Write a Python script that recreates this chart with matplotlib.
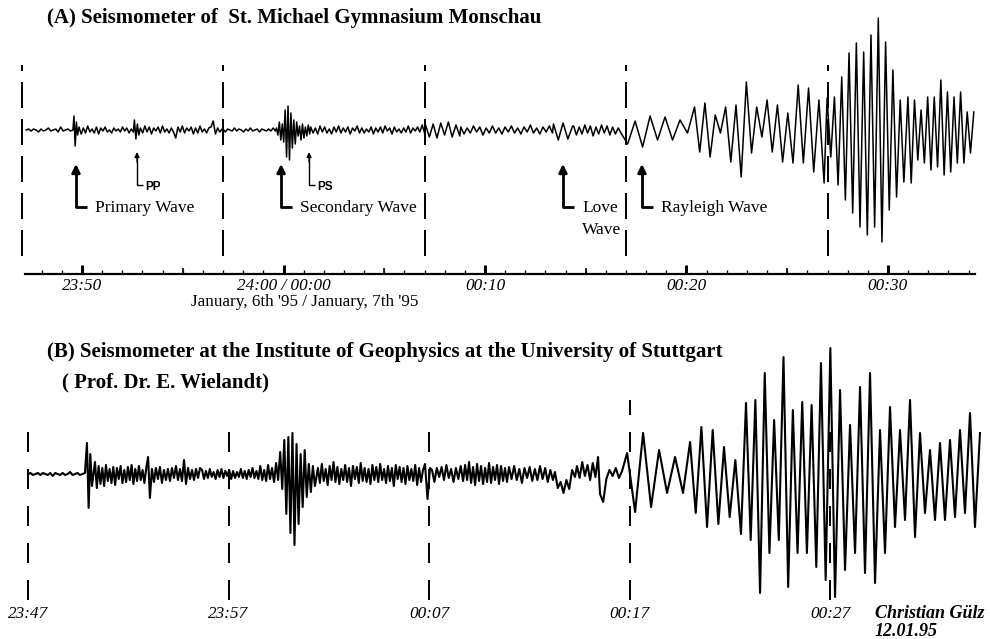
import numpy as np
import matplotlib
matplotlib.use("Agg")
import matplotlib.pyplot as plt
from matplotlib.ticker import MultipleLocator

plt.rcParams['font.family'] = ['Liberation Serif', 'DejaVu Serif']
plt.rcParams['lines.scale_dashes'] = False

# ---------------------------------------------------------------------------
# Trace A - St. Michael Gymnasium Monschau
# time in minutes relative to midnight (Jan 6/7 1995), amplitude in trace units
# each block: (start minute, end minute) and the successive extremes in it
# ---------------------------------------------------------------------------
a_pre_span = (-12.77, -10.45)
a_pre = [0, 1, -1, 1, 0, -2, 1, -1, 0, 2, -1, 0, 1, -2, 3, -1, 0, 1, -1, 0]
a_p_span = (-10.40, -10.22)
a_p = [14, -16, 8, -5]
a_p_coda_span = (-10.15, -7.45)
a_p_coda = [3, -4, 2, -3, 4, -2, 1, -3, 3, -4, 2, -1, 3, -2, 0, -3, 2, -1, 1, -2,
            3, -1, 2, -3, 1, -2]
a_pp_span = (-7.40, -7.18)
a_pp = [10, -9, 6, -5]
a_pp_coda_span = (-7.10, -3.05)
a_pp_coda = [2, -3, 4, -2, 3, -4, 2, -1, 3, -3, 4, -2, 1, -3, 2, -2, -8, 3, -2, 4,
             -3, 2, -1, 3, -4, 2, -3, 4, -2, 1, -3, 2, 3, 9, -4, 2, -2, 1]
a_quiet_span = (-3.00, -0.40)
a_quiet = [1, -2, 1, 0, -1, 2, -1, 1, 0, -2, 1, -1, 2, -1, 0, 1, -2, 1, 0, -1,
           1, -1, 2, -1]
a_s_span = (-0.35, 1.30)
a_s = [2, -5, 8, -10, 6, -12, 20, -27, 24, -30, 17, -18, 10, -14, 8, -6, 4, -10,
       6, -8, 3, -6, 5, -4]
a_mid_span = (1.35, 7.00)
a_mid = [3, -3, 2, -4, 4, -2, 3, -3, 1, -4, 3, -2, 4, -3, 2, -2, 3, -4, 2, -1,
         4, -3, 2, -3, 1, -2, 3, -4, 2, -2, 3, -3, 4, -1, 2, -4, 3, -2, 1, -3,
         2, -2, 4, -3, 2, -1, 3, -2, 5, -3]
a_love1_span = (7.05, 8.75)
a_love1 = [5, -7, 6, -8, 7, -5, 8, -7, 5, -6]
a_love2_span = (8.80, 13.35)
a_love2 = [3, -4, 2, -3, 4, -2, 3, -5, 2, -3, 4, -3, 2, -4, 3, -2, 4, -3, 2, -4,
           3, -2, 5, -3, 2, -4, 3, -2, 4, -3]
a_love3_span = (13.40, 14.35)
a_love3 = [6, -10, 7, -9, 4]
a_love4_span = (14.40, 16.75)
a_love4 = [4, -5, 3, -4, 5, -3, 4, -6, 3, -4, 5, -3, 4, -5, 3, -4, 2, -3]
a_ray1_span = (17.08, 20.05)
a_ray1 = [-14, 9, -17, 14, -10, 13, -10, 10, -3]
a_ray2_span = (20.40, 26.83)
a_ray2 = [23, -22, 27, -27, 15, -3, 23, -32, 25, -47, 48, -23, 23, -7, 30, -22,
          25, -32, 17, -33, 45, -33, 42, -42, 30, -53]
a_ray3_span = (26.98, 30.79)
a_ray3 = [32, -27, 33, -55, 53, -70, 77, -83, 87, -97, 78, -105, 95, -97, 112,
          -112, 88, -80, 60, -67, 30, -52]
a_ray4_span = (30.99, 34.26)
a_ray4 = [33, -53, 30, -30, 20, -33, 33, -40, 33, -37, 50, -45, 38, -42, 33, -33,
          38, -33, 18, -23, 18]

# ---------------------------------------------------------------------------
# Trace B - Institute of Geophysics, University of Stuttgart
# ---------------------------------------------------------------------------
b_pre_span = (-13.00, -10.16)
b_pre = [0, 1, -1, 0, 1, -1, 1, 0, -1, 1, -2, 1, 0, -1, 1, -1, 0, 2, -1, 0,
         1, -1, 0, 1]
b_p_span = (-10.06, -9.81)
b_p = [31, -34, 20, -12]
b_p_coda_span = (-9.66, -6.92)
b_p_coda = [12, -14, 8, -10, 6, -12, 9, -7, 5, -9, 7, -11, 6, -5, 8, -9, 4, -8,
            7, -6, 9, -10, 5, -7, 8, -6, 4, -9, 6, 17, -24]
b_pp_span = (-6.82, -4.42)
b_pp = [5, -8, 6, -5, 7, -9, 4, -6, 5, -7, 6, -4, 8, -6, 5, -7, 14, -10, 6, -5,
        4, -6, 5, -4, 6]
b_quiet_span = (-4.32, -0.93)
b_quiet = [4, -5, 3, -4, 5, -3, 2, -5, 4, -3, 5, -4, 3, -2, 4, -5, 3, -4, 2, -3,
           5, -4, 3, -5, 4, -3, 6, -4, 3, -5, 8, -6, 4, -7, 9, -5]
b_s_span = (-0.83, 1.31)
b_s = [6, -8, 11, -6, 22, -15, 34, -40, 37, -59, 41, -71, 30, -50, 20, -33, 24,
       -23, 10, -18, 8, -12]
b_mid_span = (1.46, 6.70)
b_mid = [6, -9, 10, -7, 5, -11, 8, -6, 12, -8, 7, -10, 5, -6, 9, -8, 6, -12, 8,
         -5, 7, -9, 11, -7, 6, -8, 5, -10, 9, -6, 7, -8, 10, -6, 5, -9, 8, -7, 6,
         -12, 9, -5, 7, -8, 6, -10, 8, -6, 5, -7, 9, -11, 6, -8, 4]
b_spike_span = (6.80, 7.05)
b_spike = [10, -25, 6]
b_love1_span = (7.15, 8.70)
b_love1 = [4, -8, 6, -3, 7, -6, 9, -4, 5, -8, 6, -5, 8, -7]
b_love2_span = (8.80, 10.89)
b_love2 = [9, -6, 12, -9, 7, -11, 10, -7, 8, -10, 6, -8, 11, -9, 7, -6, 9, -10,
           8, -7, 6, -8]
b_love3_span = (10.99, 13.18)
b_love3 = [7, -5, 8, -6, 5, -9, 6, -4, 7, -7, 5, -6, 8, -5, 6, -8, 4, -6]
b_love4_span = (13.28, 14.28)
b_love4 = [2, -14, -8, -19, -6, -15, 4, -3]
b_love5_span = (14.38, 15.43)
b_love5 = [8, -4, 12, -2, 9, -6, 11, -3, 17]
b_love6_span = (15.53, 16.63)
b_love6 = [-20, -28, -5, 4, -2, 6, -4, 3]
b_ray1_span = (16.88, 19.67)
b_ray1 = [21, -38, 41, -33, 24, -19, 17, -19]
b_ray2_span = (20.02, 22.56)
b_ray2 = [32, -39, 47, -53, 44, -50, 27, -43, 14, -60]
b_ray3_span = (22.81, 27.25)
b_ray3 = [71, -66, 74, -119, 101, -79, 54, -66, 117, -113, 64, -79, 72, -79, 69,
          -93, 111, -106, 126, -123]
b_ray4_span = (27.50, 34.48)
b_ray4 = [84, -96, 49, -79, 87, -99, 101, -109, 44, -79, 67, -53, 44, -46, 74,
          -63, 41, -39, 24, -46, 31, -46, 34, -43, 44, -39, 61, -53, 41]

# marker times (minutes from midnight) and tick labels
a_tick_minutes = [-10, 0, 10, 20, 30]
a_tick_labels = ['23:50', '24:00 / 00:00', '00:10', '00:20', '00:30']
b_tick_minutes = [-13, -3, 7, 17, 27]
b_tick_labels = ['23:47', '23:57', '00:07', '00:17', '00:27']

# phase picks on trace A: (arrow minute, label, small label?)
a_phases = [(-10.30, 'Primary Wave', False),
            (-7.27, 'PP', True),
            (-0.12, 'Secondary Wave', False),
            (1.27, 'PS', True),
            (13.87, 'Love\nWave', False),
            (17.79, 'Rayleigh Wave', False)]


def assemble(blocks):
    t_parts, v_parts = [], []
    for (t0, t1), vals in blocks:
        t_parts.append(np.linspace(t0, t1, len(vals)))
        v_parts.append(np.asarray(vals, dtype=float))
    return np.concatenate(t_parts), np.concatenate(v_parts)


trace_a = assemble([
    (a_pre_span, a_pre), (a_p_span, a_p), (a_p_coda_span, a_p_coda),
    (a_pp_span, a_pp), (a_pp_coda_span, a_pp_coda), (a_quiet_span, a_quiet),
    (a_s_span, a_s), (a_mid_span, a_mid), (a_love1_span, a_love1),
    (a_love2_span, a_love2), (a_love3_span, a_love3), (a_love4_span, a_love4),
    (a_ray1_span, a_ray1), (a_ray2_span, a_ray2), (a_ray3_span, a_ray3),
    (a_ray4_span, a_ray4)])
trace_b = assemble([
    (b_pre_span, b_pre), (b_p_span, b_p), (b_p_coda_span, b_p_coda),
    (b_pp_span, b_pp), (b_quiet_span, b_quiet), (b_s_span, b_s),
    (b_mid_span, b_mid), (b_spike_span, b_spike), (b_love1_span, b_love1),
    (b_love2_span, b_love2), (b_love3_span, b_love3), (b_love4_span, b_love4),
    (b_love5_span, b_love5), (b_love6_span, b_love6), (b_ray1_span, b_ray1),
    (b_ray2_span, b_ray2), (b_ray3_span, b_ray3), (b_ray4_span, b_ray4)])

W, H = 990, 639
fig = plt.figure(figsize=(W / 100, H / 100), dpi=100)
fig.patch.set_facecolor('white')


def box(x0, y0, x1, y1):
    return [x0 / W, 1 - y1 / H, (x1 - x0) / W, (y1 - y0) / H]


PX = 0.72  # points per pixel at 100 dpi

# ---------------- panel A ----------------
axA = fig.add_axes(box(25, 10, 975, 274))
axA.set_xlim(-12.83, 34.32)
axA.set_ylim(-144, 120)
axA.patch.set_alpha(0)
for side in ('top', 'left', 'right'):
    axA.spines[side].set_visible(False)
axA.spines['bottom'].set_linewidth(2.2 * PX)
axA.set_yticks([])
axA.set_xticks(a_tick_minutes, a_tick_labels)
axA.xaxis.set_minor_locator(MultipleLocator(1))
axA.tick_params(axis='x', which='major', direction='in', length=9 * PX,
                width=3 * PX, pad=4 * PX, labelsize=12.3)
axA.tick_params(axis='x', which='minor', direction='in', length=4 * PX,
                width=1.3 * PX)
for lab in axA.get_xticklabels():
    lab.set_fontstyle('italic')
five_min = [m for m in range(-10, 35, 5) if m not in a_tick_minutes]
axA.vlines(five_min, -144, -144 + 6, color='black', lw=1.6 * PX)

axA.vlines(b_tick_minutes, -126, 65, color='black', lw=2 * PX,
           linestyles=[(0, (26 * PX, 11 * PX))], clip_on=False, zorder=1)
axA.plot(*trace_a, color='black', lw=1.1, solid_joinstyle='round', zorder=3,
         clip_on=False)

for minute, text, small in a_phases:
    if small:
        top, bottom, foot, lw, head = -22, -55, 0.3, 1.4, 7
        axA.text(minute + 0.40, bottom - 2, text, fontsize=8.5, fontweight='bold',
                 family=['Liberation Sans', 'DejaVu Sans'], va='center', ha='left')
    else:
        top, bottom, foot, lw, head = -34, -77, 0.55, 2.8, 12
        lines = text.split('\n')
        axA.text(minute + 0.95, bottom - 1, lines[0], fontsize=12.5,
                 va='center', ha='left')
        if len(lines) > 1:
            axA.text(minute + 0.95, bottom - 23, lines[1], fontsize=12.5,
                     va='center', ha='left')
    axA.plot([minute, minute, minute + foot], [top - 6, bottom, bottom],
             color='black', lw=lw * PX, solid_capstyle='butt', clip_on=False)
    axA.annotate('', xy=(minute, top), xytext=(minute, top - 10),
                 arrowprops=dict(arrowstyle='-|>', color='black', lw=lw * PX,
                                 mutation_scale=head, shrinkA=0, shrinkB=0))

fig.text(47 / W, 1 - 18 / H, '(A) Seismometer of  St. Michael Gymnasium Monschau',
         fontsize=15, fontweight='bold', va='center', ha='left')
fig.text(305 / W, 1 - 302 / H, "January, 6th '95 / January, 7th '95",
         fontsize=12.3, va='center', ha='center')

# ---------------- panel B ----------------
axB = fig.add_axes(box(25, 330, 985, 600))
axB.set_xlim(-13.15, 34.73)
axB.set_ylim(-126, 144)
axB.patch.set_alpha(0)
for side in axB.spines:
    axB.spines[side].set_visible(False)
axB.set_yticks([])
axB.set_xticks(b_tick_minutes, b_tick_labels)
axB.tick_params(axis='x', length=0, pad=6 * PX, labelsize=12.3)
for lab in axB.get_xticklabels():
    lab.set_fontstyle('italic')
b_dash_top = [47, 47, 47, 74, 47]
axB.vlines(b_tick_minutes, -126, b_dash_top, color='black', lw=2 * PX,
           linestyles=[(0, (20 * PX, 17 * PX))], clip_on=False, zorder=1)
axB.plot(*trace_b, color='black', lw=1.5, solid_joinstyle='round', zorder=3,
         clip_on=False)

fig.text(47 / W, 1 - 352 / H,
         '(B) Seismometer at the Institute of Geophysics at the University of Stuttgart',
         fontsize=15, fontweight='bold', va='center', ha='left')
fig.text(62 / W, 1 - 382 / H, '( Prof. Dr. E. Wielandt)',
         fontsize=15, fontweight='bold', va='center', ha='left')
fig.text(875 / W, 1 - 613 / H, 'Christian Gülz', fontsize=13,
         fontweight='bold', fontstyle='italic', va='center', ha='left')
fig.text(875 / W, 1 - 631 / H, '12.01.95', fontsize=13,
         fontweight='bold', fontstyle='italic', va='center', ha='left')

fig.savefig('out.png', dpi=100, facecolor='white')
